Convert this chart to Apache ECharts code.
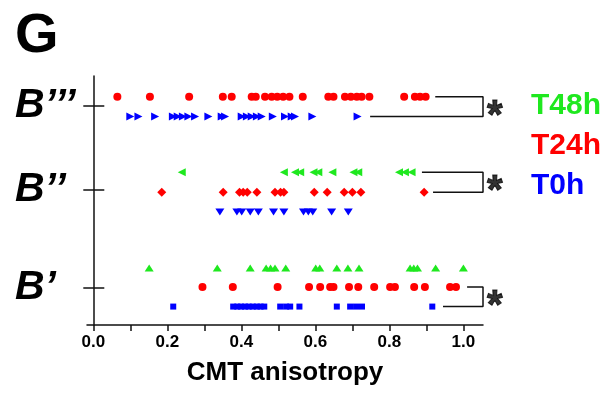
<!DOCTYPE html>
<html><head><meta charset="utf-8">
<script src="https://cdn.jsdelivr.net/npm/echarts@6/dist/echarts.min.js"></script>
<style>html,body{margin:0;padding:0;background:#fff}#c{width:614px;height:394px}</style>
</head><body><div id="c"></div>
<script>
// ---- data ----
const groupNames = ['B\u2019', 'B\u2019\u2019', 'B\u2019\u2019\u2019'];
const groupTickY = [1.5, 5.45, 8.8];
const timeNames = ['T48h', 'T24h', 'T0h'];
const xTickValues = [0, 0.1, 0.2, 0.3, 0.4, 0.5, 0.6, 0.7, 0.8, 0.9, 1.0];
const xLabelValues = [0, 0.2, 0.4, 0.6, 0.8, 1.0];

// B''' row
const b3_T24 = [0.065,0.153,0.259,0.350,0.374,0.428,0.439,0.464,0.482,0.497,0.513,0.530,0.566,0.635,0.649,0.680,0.696,0.712,0.725,0.746,0.840,0.869,0.883,0.898];
const b3_T0  = [0.100,0.122,0.167,0.215,0.228,0.242,0.257,0.275,0.311,0.347,0.356,0.401,0.415,0.428,0.442,0.455,0.485,0.518,0.536,0.545,0.592,0.714];
// B'' row
const b2_T48 = [0.239,0.515,0.545,0.559,0.595,0.608,0.646,0.703,0.716,0.826,0.842,0.860];
const b2_T24 = [0.185,0.351,0.395,0.405,0.416,0.442,0.491,0.506,0.515,0.597,0.632,0.678,0.700,0.723,0.894];
const b2_T0  = [0.342,0.388,0.401,0.424,0.446,0.487,0.515,0.568,0.581,0.593,0.644,0.689];
// B' row
const b1_T48 = [0.151,0.335,0.424,0.467,0.479,0.491,0.520,0.601,0.612,0.658,0.688,0.718,0.856,0.866,0.876,0.925,1.000];
const b1_T24 = [0.295,0.377,0.498,0.583,0.613,0.640,0.649,0.691,0.716,0.759,0.802,0.815,0.867,0.896,0.964,0.980];
const b1_T0  = [0.216,0.378,0.389,0.399,0.410,0.420,0.431,0.442,0.452,0.462,0.505,0.521,0.532,0.557,0.658,0.694,0.710,0.726,0.916];

// row placement (y-axis units)
const rowY = {
  b1: {T48: 2.29, T24: 1.53, T0: 0.74},
  b2: {T48: 6.13, T24: 5.33, T0: 4.54},
  b3: {T24: 9.17, T0: 8.37}
};
// significance brackets
const bracketX = 1.053;
const brackets = [
  {top: [0.924, rowY.b3.T24], bottom: [0.748, rowY.b3.T0]},
  {top: [0.888, rowY.b2.T48], bottom: [0.918, rowY.b2.T24]},
  {top: [1.010, rowY.b1.T24], bottom: [0.945, rowY.b1.T0]}
];

const GREEN = '#1fe81f', RED = '#ff0000', BLUE = '#0000ff';
const FONT = 'Liberation Sans, Arial, sans-serif';

function pts(xs, y) { return xs.map(x => [x, y]); }
function sc(name, xs, y, symbol, size, rot, color) {
  return {type: 'scatter', name, data: pts(xs, y), symbol, symbolSize: size, symbolRotate: rot,
    itemStyle: {color, opacity: 1}, emphasis: {disabled: true}, silent: true, z: 3};
}

const series = [
  sc('T24h', b3_T24, rowY.b3.T24, 'circle', 8, 0, RED),
  sc('T0h', b3_T0, rowY.b3.T0, 'triangle', [8, 8], -90, BLUE),
  sc('T48h', b2_T48, rowY.b2.T48, 'triangle', [8, 8], 90, GREEN),
  sc('T24h', b2_T24, rowY.b2.T24, 'diamond', [9, 9], 0, RED),
  sc('T0h', b2_T0, rowY.b2.T0, 'triangle', [9, 7], 180, BLUE),
  sc('T48h', b1_T48, rowY.b1.T48, 'triangle', [9, 7], 0, GREEN),
  sc('T24h', b1_T24, rowY.b1.T24, 'circle', 8, 0, RED),
  sc('T0h', b1_T0, rowY.b1.T0, 'rect', 6, 0, BLUE)
];
brackets.forEach((b, i) => {
  series.push({type: 'line', name: 'bracket' + i, silent: true, symbol: 'none', z: 2,
    lineStyle: {color: '#111', width: 1.5},
    data: [b.top, [bracketX, b.top[1]], [bracketX, b.bottom[1]], b.bottom]});
  series.push({type: 'scatter', name: 'star' + i, silent: true, symbolSize: 0,
    data: [[bracketX, (b.top[1] + b.bottom[1]) / 2]],
    label: {show: true, formatter: '*', position: 'right', distance: 4, offset: [0, 10],
      fontSize: 40, fontWeight: 'bold', color: '#000', fontFamily: FONT,
      textBorderColor: '#000', textBorderWidth: 1}});
});

const chart = echarts.init(document.getElementById('c'), null, {renderer: 'canvas'});
chart.setOption({
  animation: false,
  backgroundColor: '#fff',
  title: {text: 'G', left: 10, top: 4, textStyle: {fontSize: 56, fontWeight: 'bold', color: '#000', fontFamily: FONT}},
  legend: {
    orient: 'vertical', left: 521, top: 86, itemWidth: 0, itemHeight: 0, itemGap: 10,
    selectedMode: false,
    textStyle: {fontSize: 30, fontWeight: 'bold', fontFamily: FONT, lineHeight: 30},
    data: [
      {name: 'T48h', textStyle: {color: GREEN}},
      {name: 'T24h', textStyle: {color: RED}},
      {name: 'T0h', textStyle: {color: BLUE}}
    ]
  },
  grid: {left: 87, right: 131, top: 76, bottom: 69, containLabel: false},
  xAxis: {
    type: 'value', min: -0.017, max: bracketX,
    name: 'CMT anisotropy', nameLocation: 'middle', nameGap: 35,
    nameTextStyle: {fontSize: 26, fontWeight: 'bold', color: '#000', fontFamily: FONT},
    axisLine: {show: true, lineStyle: {color: '#111', width: 1.5}},
    axisTick: {show: true, length: 6, customValues: xTickValues, lineStyle: {color: '#111', width: 1.5}},
    axisLabel: {show: true, customValues: xLabelValues, margin: 9,
      formatter: v => v.toFixed(1),
      fontSize: 17, fontWeight: 'bold', color: '#000', fontFamily: FONT},
    splitLine: {show: false}
  },
  yAxis: [{
    type: 'value', min: 0, max: 10,
    axisLine: {show: true, onZero: true, lineStyle: {color: '#111', width: 1.5}},
    axisTick: {show: true, length: 10, customValues: groupTickY, lineStyle: {color: '#111', width: 1.5}},
    axisLabel: {show: true, customValues: groupTickY, margin: 72, align: 'left',
      formatter: v => groupNames[groupTickY.indexOf(v)] || '',
      fontSize: 41, fontWeight: 'bold', fontStyle: 'italic', color: '#000', fontFamily: FONT},
    splitLine: {show: false}
  }, {
    type: 'value', min: 0, max: 10, position: 'left', offset: -6.3,
    axisLine: {show: false, onZero: false},
    axisTick: {show: true, inside: true, length: 11, customValues: groupTickY, lineStyle: {color: '#111', width: 1.5}},
    axisLabel: {show: false},
    splitLine: {show: false}
  }],
  series
});
</script>
</body></html>
